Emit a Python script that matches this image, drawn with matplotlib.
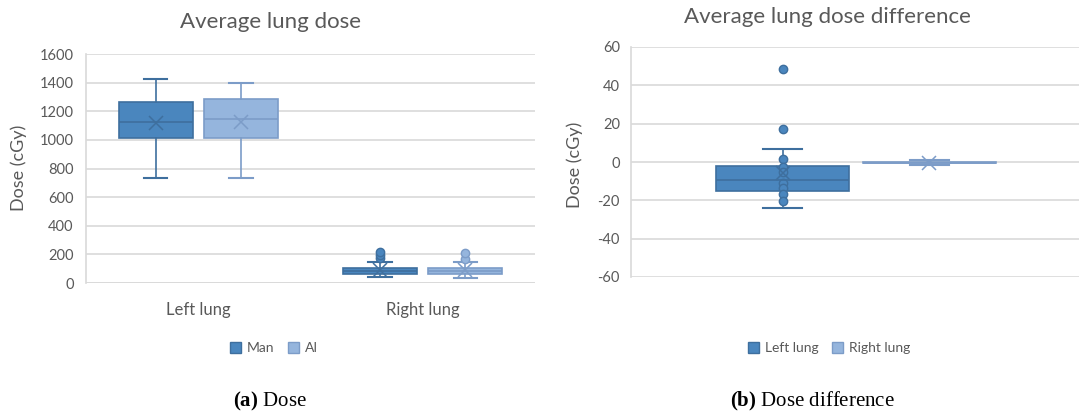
import matplotlib.pyplot as plt
from matplotlib.patches import Patch

# --- data ---
dose_groups = ['Left lung', 'Right lung']
dose_series = ['Man', 'AI']
# per series, per group: whislo, q1, med, q3, whishi, mean
dose_whislo = {'Man': [731, 40], 'AI': [737, 38]}
dose_q1 = {'Man': [1011, 66], 'AI': [1010, 66]}
dose_med = {'Man': [1127, 85], 'AI': [1143, 86]}
dose_q3 = {'Man': [1267, 106], 'AI': [1283, 104]}
dose_whishi = {'Man': [1424, 148], 'AI': [1400, 147]}
dose_mean = {'Man': [1116, 90], 'AI': [1122, 89]}
dose_fliers = {'Man': [[], [175, 195, 215]], 'AI': [[], [171, 213]]}

diff_series = ['Left lung', 'Right lung']
diff_whislo = [-23.9, -1.4]
diff_q1 = [-15.2, -0.7]
diff_med = [-9.4, -0.3]
diff_q3 = [-2.1, 0.1]
diff_whishi = [6.6, 0.9]
diff_mean = [-5.6, -0.4]
diff_points = [[48.6, 17.4, 1.4, -2.8, -5.0, -11.2, -13.8, -16.7, -20.2], []]

# --- style ---
FACE = {'dark': '#4a86be', 'light': '#95b5dd'}
EDGE = {'dark': '#3e6f9e', 'light': '#7c9cc8'}
TXT = '#595959'
GRID = '#d9d9d9'
plt.rcParams['font.family'] = ['Lato', 'DejaVu Sans']
plt.rcParams['axes.unicode_minus'] = False
plt.rcParams['mathtext.fontset'] = 'custom'
plt.rcParams['mathtext.rm'] = 'Liberation Serif'
plt.rcParams['mathtext.bf'] = 'Liberation Serif:bold'

W, H = 1079, 411
fig = plt.figure(figsize=(W / 100, H / 100), dpi=100)


def px_axes(x0, y0, x1, y1):
    return fig.add_axes([x0 / W, 1 - y1 / H, (x1 - x0) / W, (y1 - y0) / H])


def draw_box(ax, stats, pos, width, tone, capw):
    ax.bxp([stats], positions=[pos], widths=width, patch_artist=True,
           showmeans=True, shownotches=False, manage_ticks=False,
           capwidths=[capw],
           boxprops=dict(facecolor=FACE[tone], edgecolor=EDGE[tone], linewidth=1.2),
           medianprops=dict(color=EDGE[tone], linewidth=1.2),
           whiskerprops=dict(color=EDGE[tone], linewidth=1.2),
           capprops=dict(color=EDGE[tone], linewidth=1.5),
           meanprops=dict(marker='x', markeredgecolor=EDGE[tone],
                          markerfacecolor='none', markersize=10, markeredgewidth=1.1),
           flierprops=dict(marker='o', markerfacecolor=FACE[tone],
                           markeredgecolor=EDGE[tone], markersize=6))


def style_axes(ax):
    for s in ['top', 'right', 'bottom']:
        ax.spines[s].set_visible(False)
    ax.spines['left'].set_color(GRID)
    ax.spines['left'].set_linewidth(1.2)
    ax.grid(axis='y', color=GRID, linewidth=1.2)
    ax.set_axisbelow(True)
    ax.tick_params(length=0, colors=TXT, labelsize=10.5)


# --- (a) Dose ---
ax1 = px_axes(86, 54, 535, 283)
tones = {'Man': 'dark', 'AI': 'light'}
offsets = {'Man': -0.19, 'AI': 0.19}
for s in dose_series:
    for i, g in enumerate(dose_groups):
        st = dict(whislo=dose_whislo[s][i], q1=dose_q1[s][i], med=dose_med[s][i],
                  q3=dose_q3[s][i], whishi=dose_whishi[s][i], mean=dose_mean[s][i],
                  fliers=dose_fliers[s][i])
        draw_box(ax1, st, i + offsets[s], 0.33, tones[s], 0.105)
ax1.set_xlim(-0.5, 1.5)
ax1.set_ylim(0, 1600)
ax1.set_yticks(range(0, 1601, 200))
ax1.set_xticks(range(len(dose_groups)))
ax1.set_xticklabels(dose_groups, fontsize=12, color=TXT)
style_axes(ax1)
ax1.tick_params(axis='y', pad=9)
ax1.tick_params(axis='x', pad=14, labelsize=12)
ax1.axhline(0, color=GRID, linewidth=1.2, zorder=0)

# --- (b) Dose difference ---
ax2 = px_axes(631, 47, 1081, 277)
diff_tones = ['dark', 'light']
diff_offsets = [-0.163, 0.163]
for i, s in enumerate(diff_series):
    st = dict(whislo=diff_whislo[i], q1=diff_q1[i], med=diff_med[i], q3=diff_q3[i],
              whishi=diff_whishi[i], mean=diff_mean[i], fliers=diff_points[i])
    draw_box(ax2, st, diff_offsets[i], 0.296, diff_tones[i], 0.087)
ax2.set_xlim(-0.5, 0.5)
ax2.set_ylim(-60, 60)
ax2.set_yticks(range(-60, 61, 20))
ax2.set_xticks([])
style_axes(ax2)
ax2.tick_params(axis='y', pad=8)

# --- titles, labels, legends, captions ---
fig.text(270 / W, 1 - 22 / H, 'Average lung dose', ha='center', va='center',
         fontsize=16, color=TXT)
fig.text(827 / W, 1 - 17 / H, 'Average lung dose difference', ha='center',
         va='center', fontsize=16, color=TXT)
fig.text(19 / W, 1 - 168 / H, 'Dose (cGy)', rotation=90, ha='center', va='center',
         fontsize=13, color=TXT)
fig.text(575 / W, 1 - 165 / H, 'Dose (cGy)', rotation=90, ha='center', va='center',
         fontsize=13, color=TXT)

leg_kw = dict(loc='center', ncol=2, frameon=False, fontsize=10, handlelength=0.8,
              handleheight=0.8, handletextpad=0.4, columnspacing=1.0, labelcolor=TXT)
fig.legend(handles=[Patch(facecolor=FACE[tones[s]], edgecolor=EDGE[tones[s]], label=s)
                    for s in dose_series],
           bbox_to_anchor=(274 / W, 1 - 348 / H), **leg_kw)
fig.legend(handles=[Patch(facecolor=FACE[t], edgecolor=EDGE[t], label=s)
                    for s, t in zip(diff_series, diff_tones)],
           bbox_to_anchor=(829 / W, 1 - 348 / H), **leg_kw)

serif = ['Liberation Serif', 'DejaVu Serif']
fig.text(270 / W, 1 - 401 / H, r'$\mathbf{(a)}$ Dose', ha='center', va='center',
         fontsize=15, family=serif, color='black')
fig.text(812 / W, 1 - 401 / H, r'$\mathbf{(b)}$ Dose difference', ha='center',
         va='center', fontsize=15, family=serif, color='black')

fig.savefig('out.png', dpi=100, facecolor='white')
